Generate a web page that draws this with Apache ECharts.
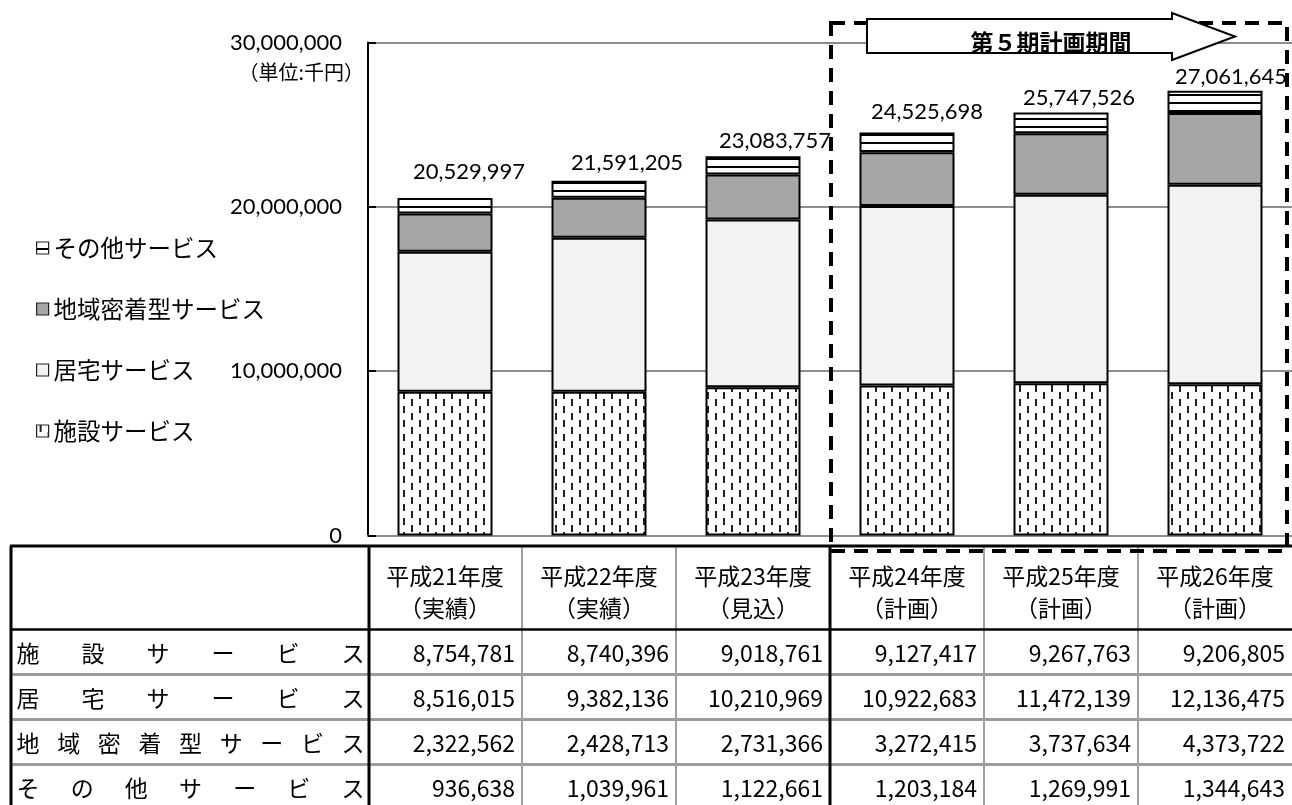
<!DOCTYPE html>
<html><head><meta charset="utf-8">
<script src="https://cdn.jsdelivr.net/npm/echarts@6/dist/echarts.min.js"></script>
<style>html,body{margin:0;padding:0;background:#fff}#c{width:1292px;height:805px}</style>
</head><body><div id="c"></div>
<script>
// ---------- data ----------
const categories = ['平成21年度','平成22年度','平成23年度','平成24年度','平成25年度','平成26年度'];
const categoryNotes = ['（実績）','（実績）','（見込）','（計画）','（計画）','（計画）'];
const seriesNames = ['施設サービス','居宅サービス','地域密着型サービス','その他サービス'];
const shisetsu = [8754781, 8740396, 9018761, 9127417, 9267763, 9206805];
const kyotaku  = [8516015, 9382136, 10210969, 10922683, 11472139, 12136475];
const chiiki   = [2322562, 2428713, 2731366, 3272415, 3737634, 4373722];
const sonota   = [936638, 1039961, 1122661, 1203184, 1269991, 1344643];
const totals   = [20529997, 21591205, 23083757, 24525698, 25747526, 27061645];
const yTicks = [0, 10000000, 20000000, 30000000];
const unitLabel = '（単位:千円）';
const periodLabel = '第５期計画期間';
const legendOrder = ['その他サービス','地域密着型サービス','居宅サービス','施設サービス'];

// ---------- styling ----------
const fmt = v => Number(v).toLocaleString('en-US');
const CJK = '"Noto Sans CJK JP", sans-serif';
const NUM = 'Lato, "Noto Sans", sans-serif';
const totalLabelOffsets = [[24,-14],[28,-6],[22,-3],[20,-9],[18,-2],[16,-2]];

function makeCanvas(w,h,draw){const c=document.createElement('canvas');c.width=w;c.height=h;const g=c.getContext('2d');g.fillStyle='#fff';g.fillRect(0,0,w,h);draw(g);return c;}
const dashPat = makeCanvas(16,14,g=>{g.fillStyle='#222';g.fillRect(3,0,2,7);g.fillRect(11,7,2,7);});
const stripePat = makeCanvas(8,8,g=>{g.fillStyle='#000';g.fillRect(0,6,8,2);});

const seriesData = [shisetsu, kyotaku, chiiki, sonota];
const seriesColors = [{image:dashPat,repeat:'repeat'}, '#f2f2f2', '#a6a6a6', {image:stripePat,repeat:'repeat'}];

const chart = echarts.init(document.getElementById('c'), null, {renderer:'canvas'});

const series = seriesNames.map((name, si) => {
  const s = {
    name, type:'bar', stack:'total', barWidth:95,
    itemStyle:{color:seriesColors[si], borderColor:'#000', borderWidth:2},
    emphasis:{disabled:true},
    data: seriesData[si].slice()
  };
  if (si === seriesNames.length - 1) {
    s.data = seriesData[si].map((v,i)=>({value:v, label:{offset:totalLabelOffsets[i]}}));
    s.label = {show:true, position:'top', distance:0, color:'#000', fontFamily:NUM, fontSize:22, lineHeight:24,
      formatter: p => fmt(totals[p.dataIndex])};
  }
  return s;
});

chart.setOption({
  animation:false,
  backgroundColor:'#fff',
  grid:{left:368, right:0, top:42.5, bottom:269.5, containLabel:false},
  legend:{
    data: legendOrder, orient:'vertical', left:31, top:231, itemGap:37,
    itemWidth:12, itemHeight:12, icon:'rect',
    itemStyle:{borderWidth:1.2, borderColor:'#222'},
    textStyle:{fontFamily:CJK, fontSize:23.5, lineHeight:24, color:'#000'},
    selectedMode:false
  },
  xAxis:{type:'category', data:categories,
    axisLine:{show:true, lineStyle:{color:'#8c8c8c', width:2}},
    axisTick:{show:false}, axisLabel:{show:false}},
  yAxis:{type:'value', min:yTicks[0], max:yTicks[yTicks.length-1], interval:yTicks[1]-yTicks[0],
    axisLine:{show:true, lineStyle:{color:'#000', width:2}},
    axisTick:{show:true, inside:true, length:8, lineStyle:{color:'#000', width:2}},
    splitLine:{show:true, lineStyle:{color:'#8c8c8c', width:2}},
    axisLabel:{margin:26, fontFamily:NUM, fontSize:22, color:'#000', formatter: v => fmt(v)}},
  series
});

// ---------- table & annotations (graphic) ----------
const centers = categories.map((c,i)=>chart.convertToPixel({xAxisIndex:0}, i));
const band = centers.length > 1 ? centers[1]-centers[0] : 154;
const g = [];
const tTop = 546, hBot = 629.5, rowH = 45, tLeft = 11, tRight = 1292, tBottom = 810;
const labelColRight = centers[0] - band/2 + 1;
function line(x1,y1,x2,y2,color,w,z){g.push({type:'line', z:z||50, shape:{x1,y1,x2,y2}, style:{stroke:color, lineWidth:w}});}
function text(x,y,str,opt){g.push(Object.assign({type:'text', z:60, x, y, style:Object.assign({text:str, fill:'#000', font:'23px '+CJK, textAlign:'center', textVerticalAlign:'middle'}, opt||{})}));}

// row separators (gray)
for (let r=1; r<seriesNames.length; r++) line(tLeft, hBot+rowH*r, tRight, hBot+rowH*r, '#9c9c9c', 3);
// vertical gray lines between value columns
for (let i=1; i<categories.length; i++) {
  const x = centers[i]-band/2;
  if (i !== 3) line(x, tTop, x, tBottom, '#a0a0a0', 2);
}
// black lines
line(tLeft-1, tTop, tRight, tTop, '#000', 3, 55);
line(tLeft-1, hBot, tRight, hBot, '#000', 2.5, 55);
line(tLeft, tTop, tLeft, tBottom, '#000', 3, 55);
line(labelColRight, tTop, labelColRight, tBottom, '#000', 3, 55);
line(centers[3]-band/2, tTop, centers[3]-band/2, tBottom, '#000', 3, 55);

// header
categories.forEach((c,i)=>{
  text(centers[i], 576, c);
  text(centers[i], 608, categoryNotes[i]);
});
// row labels (distributed) and values
const tableRows = [shisetsu, kyotaku, chiiki, sonota];
seriesNames.forEach((name, r)=>{
  const y = hBot + rowH*r + rowH/2 + 1;
  const chars = Array.from(name);
  const x0 = 28, x1 = 353;
  chars.forEach((ch,k)=> text(x0 + k*(x1-x0)/(chars.length-1), y, ch));
  tableRows[r].forEach((v,i)=> text(centers[i]+band/2-7, y, fmt(v), {textAlign:'right'}));
});

// unit label
text(364, 72, unitLabel, {textAlign:'right', font:'20px '+CJK});

// dashed box for plan period
g.push({type:'rect', z:70, shape:{x:831, y:23, width:456, height:528},
  style:{fill:null, stroke:'#000', lineWidth:4, lineDash:[14,9]}});
// arrow
g.push({type:'polygon', z:80, shape:{points:[[867,19],[1172,19],[1172,13],[1235,36.5],[1172,60],[1172,53],[867,53]]},
  style:{fill:'#fff', stroke:'#000', lineWidth:2}});
g.push({type:'text', z:81, x:1051, y:42, style:{text:periodLabel, fill:'#000', font:'bold 23px '+CJK, textAlign:'center', textVerticalAlign:'middle'}});

chart.setOption({graphic:{elements:g}});
</script>
</body></html>
